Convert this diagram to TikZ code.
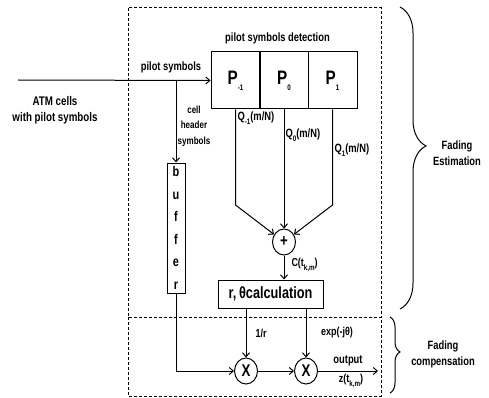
\documentclass[tikz,border=0pt]{standalone}
\usepackage{fontspec}
\setmainfont{Liberation Sans}[FakeStretch=0.78]
\usetikzlibrary{shapes.geometric,decorations.pathreplacing,arrows.meta}
\newcommand\lowix[1]{\raisebox{-0.55ex}{\fontsize{8}{8}\selectfont #1}}
\begin{document}
\begin{tikzpicture}[x=1pt,y=-1pt,line width=1pt,>={Straight Barb[length=4pt,width=7pt]},pblock/.style={draw,inner sep=0pt,minimum width=49pt,minimum height=57pt,font=\fontsize{19.5}{19.5}\selectfont\bfseries},mult/.style={ellipse,draw,inner sep=0pt,minimum width=23pt,minimum height=26pt,font=\fontsize{17}{17}\selectfont\bfseries},lbl/.style={inner sep=0pt,font=\fontsize{12}{16}\selectfont\bfseries},small/.style={inner sep=0pt,font=\fontsize{10.3}{15.5}\selectfont\bfseries},dashbox/.style={dash pattern=on 3pt off 2pt},brc/.style={decorate,decoration={brace,amplitude=#1,aspect=0.46}}]
\useasboundingbox (0,0) rectangle (489,398);
\def\yp{80.5};
\def\yx{371};

\draw[dashbox] (128,8) rectangle (381,317);
\draw[dashbox] (128,317) rectangle (381,396);

\node[pblock] (Pm) at (235.5,\yp) {P\lowix{-1}};
\node[pblock] (P0) at (284,\yp) {P\lowix{0}};
\node[pblock] (P1) at (332.5,\yp) {P\lowix{1}};
\node[lbl] (ptitle) at (277.5,38) {pilot symbols detection};

\coordinate (in) at (18,80);
\coordinate (split) at (176,80);
\draw[->] (in) -- (Pm.west);
\node[lbl] (pilot) at (171,67) {pilot symbols};
\node[lbl,align=center,font=\fontsize{12.5}{16}\selectfont\bfseries] (atm) at (55,110) {ATM cells\\with pilot symbols};

\node[draw,inner sep=0pt,minimum width=18pt,minimum height=130pt,align=center,font=\fontsize{14}{22.6}\selectfont\bfseries] (buf) at (176,228) {b\\u\\f\\f\\e\\r};
\draw[->] (split) -- (buf.north);
\node[small,align=center] (hdr) at (194,126) {cell\\header\\symbols};

\node[mult] (sum) at (284,242) {+};
\coordinate (bendL) at (235.5,205);
\coordinate (bendR) at (332.5,205);
\draw[->] (Pm.south) -- (bendL) -- (sum);
\draw[->] (P0.south) -- (sum.north);
\draw[->] (P1.south) -- (bendR) -- (sum);
\node[lbl,anchor=west] (qm) at (237,118) {Q\lowix{-1}(m/N)};
\node[lbl,anchor=west] (q0) at (285,135) {Q\lowix{0}(m/N)};
\node[lbl,anchor=west] (q1) at (334,150) {Q\lowix{1}(m/N)};

\node[draw,inner sep=0pt,minimum width=105pt,minimum height=28pt,font=\fontsize{16.3}{16.3}\selectfont\bfseries] (calc) at (270.5,294) {r,\,θcalculation};
\draw[->] (sum.south) -- (sum.south |- calc.north);
\node[lbl,anchor=west,font=\fontsize{11.5}{12}\selectfont\bfseries] (ctk) at (291,265) {C(t\lowix{k,m})};

\node[mult] (mx1) at (246,\yx) {X};
\node[mult] (mx2) at (306,\yx) {X};
\coordinate (out) at (378,\yx);
\draw[->] (calc.south -| mx1) -- (mx1.north);
\draw[->] (calc.south -| mx2) -- (mx2.north);
\draw[->] (buf.south) |- (mx1.west);
\draw[->] (mx1.east) -- (mx2.west);
\draw[->] (mx2.east) -- (out);
\node[lbl,font=\fontsize{11.5}{12}\selectfont\bfseries] (inv) at (261,333) {1/r};
\node[lbl,font=\fontsize{11.5}{12}\selectfont\bfseries] (phase) at (337,333) {exp(-jθ)};
\node[lbl] (outl) at (348,361) {output};
\node[lbl,font=\fontsize{11.5}{12}\selectfont\bfseries] (zout) at (351,381) {z(t\lowix{k,m})};

\draw[brc=26] (400,7) -- (400,309);
\draw[brc=10] (390,317) -- (390,393);
\node[lbl,align=center] (fest) at (457,153) {Fading\\Estimation};
\node[lbl,align=center] (fcomp) at (443,354) {Fading\\compensation};
\end{tikzpicture}
\end{document}
